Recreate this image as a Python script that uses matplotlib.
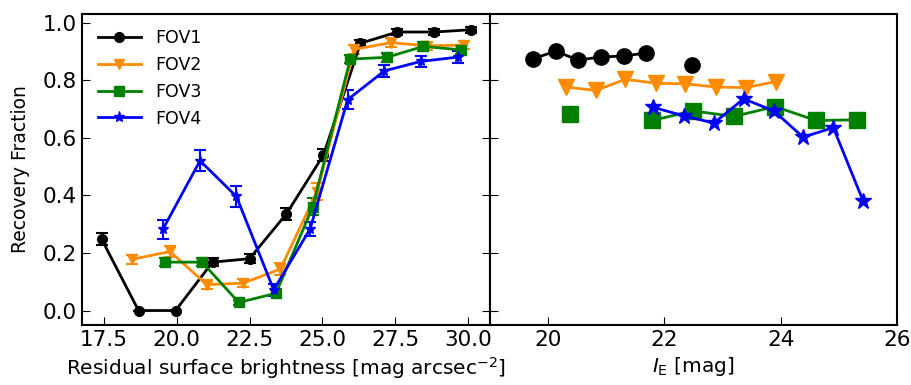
import numpy as np
import matplotlib.pyplot as plt

# left panel: recovery vs residual surface brightness
sb_fov1 = [17.42, 18.69, 19.96, 21.23, 22.50, 23.77, 25.04, 26.31, 27.58, 28.85, 30.12]
rf_fov1 = [0.248, 0.0, 0.0, 0.168, 0.18, 0.336, 0.54, 0.928, 0.967, 0.967, 0.975]
er_fov1 = [0.02, 0.0, 0.0, 0.015, 0.015, 0.02, 0.02, 0.01, 0.01, 0.01, 0.01]

sb_fov2 = [18.48, 19.77, 21.03, 22.28, 23.56, 24.82, 26.10, 27.36, 28.61, 29.88]
rf_fov2 = [0.178, 0.205, 0.09, 0.095, 0.144, 0.413, 0.907, 0.93, 0.919, 0.922]
er_fov2 = [0.015, 0.02, 0.015, 0.015, 0.02, 0.03, 0.015, 0.015, 0.015, 0.015]

sb_fov3 = [19.60, 20.87, 22.13, 23.41, 24.67, 25.96, 27.21, 28.47, 29.76]
rf_fov3 = [0.168, 0.168, 0.028, 0.06, 0.36, 0.873, 0.879, 0.917, 0.905]
er_fov3 = [0.015, 0.015, 0.01, 0.01, 0.03, 0.015, 0.015, 0.015, 0.015]

sb_fov4 = [19.53, 20.80, 22.05, 23.33, 24.58, 25.87, 27.13, 28.39, 29.67]
rf_fov4 = [0.283, 0.52, 0.396, 0.072, 0.283, 0.732, 0.832, 0.865, 0.88]
er_fov4 = [0.033, 0.037, 0.037, 0.02, 0.025, 0.034, 0.02, 0.02, 0.02]

# right panel: recovery vs I_E magnitude (nan = gap)
mag_fov1 = [19.74, 20.13, 20.52, 20.91, 21.30, 21.69, 22.08, 22.47]
mrf_fov1 = [0.874, 0.90, 0.87, 0.88, 0.884, 0.894, np.nan, 0.853]

mag_fov2 = [20.31, 20.82, 21.33, 21.85, 22.36, 22.88, 23.40, 23.91]
mrf_fov2 = [0.776, 0.764, 0.803, 0.789, 0.787, 0.776, 0.774, 0.795]

mag_fov3 = [20.38, 21.09, 21.79, 22.49, 23.19, 23.90, 24.60, 25.31]
mrf_fov3 = [0.683, np.nan, 0.66, 0.693, 0.674, 0.708, 0.66, 0.662]

mag_fov4 = [21.80, 22.33, 22.85, 23.36, 23.88, 24.38, 24.90, 25.41]
mrf_fov4 = [0.706, 0.676, 0.651, 0.735, 0.693, 0.602, 0.635, 0.381]

colors = ['black', 'darkorange', 'green', 'blue']
markers = ['o', 'v', 's', '*']
labels = ['FOV1', 'FOV2', 'FOV3', 'FOV4']

fig = plt.figure(figsize=(9.12, 3.85), dpi=100)
ax1 = fig.add_axes([0.09, 0.156, 0.447, 0.808])
ax2 = fig.add_axes([0.537, 0.156, 0.447, 0.808])

left_sets = [(sb_fov1, rf_fov1, er_fov1), (sb_fov2, rf_fov2, er_fov2),
             (sb_fov3, rf_fov3, er_fov3), (sb_fov4, rf_fov4, er_fov4)]
handles = []
for (x, y, e), c, m, lab in zip(left_sets, colors, markers, labels):
    cont = ax1.errorbar(x, y, yerr=e, color=c, marker=m, ms=7 if m != '*' else 8,
                        lw=2, capsize=4, capthick=1.5, elinewidth=1.5, label=lab)
    handles.append(cont[0])

right_sets = [(mag_fov1, mrf_fov1), (mag_fov2, mrf_fov2),
              (mag_fov3, mrf_fov3), (mag_fov4, mrf_fov4)]
for (x, y), c, m in zip(right_sets, colors, markers):
    ax2.plot(x, y, color=c, marker=m, ms=11 if m != '*' else 12, lw=2)

ax1.set_xlim(16.75, 30.75)
ax1.set_ylim(-0.05, 1.03)
ax1.set_xticks([17.5, 20.0, 22.5, 25.0, 27.5, 30.0])
ax1.set_yticks([0.0, 0.2, 0.4, 0.6, 0.8, 1.0])
ax1.set_xlabel('Residual surface brightness [mag arcsec$^{-2}$]', fontsize=14.5)
ax1.set_ylabel('Recovery Fraction', fontsize=13.5, labelpad=9)
ax1.tick_params(direction='in', right=True, labelsize=15.5, length=6)
ax1.legend(handles=handles, labels=labels, loc='upper left', frameon=False,
           fontsize=12.5, handlelength=2.5)

ax2.set_xlim(19, 26)
ax2.set_ylim(-0.05, 1.03)
ax2.set_xticks([20, 22, 24, 26])
ax2.set_yticks([0.0, 0.2, 0.4, 0.6, 0.8, 1.0])
ax2.tick_params(direction='in', labelleft=False, labelsize=15.5, length=6)
ax2.set_xlabel('$I_{\\rm E}$ [mag]', fontsize=14.5)

for ax in (ax1, ax2):
    for sp in ax.spines.values():
        sp.set_linewidth(1.5)

fig.savefig('out.png', dpi=100)
